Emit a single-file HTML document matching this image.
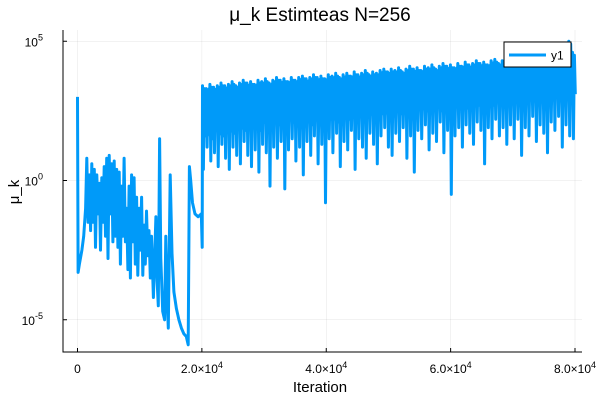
<!DOCTYPE html>
<html><head><meta charset="utf-8"><style>
html,body{margin:0;padding:0;background:#fff;}
svg{display:block;font-family:"Liberation Sans",sans-serif;}
</style></head><body>
<svg id="chart" width="600" height="400" viewBox="0 0 600 400" xmlns="http://www.w3.org/2000/svg">
<text x="320" y="21" font-size="19" text-anchor="middle" fill="#000">μ_k Estimteas N=256</text>
<text x="320" y="392" font-size="15" text-anchor="middle">Iteration</text>
<text x="19" y="192" font-size="15" text-anchor="middle" transform="rotate(-90 19 192)">μ_k</text>
<g id="grid"></g>
<g id="series"></g>
<g id="axes"></g>
<g>
<rect x="504" y="42" width="67" height="25" fill="#fff" stroke="#000" stroke-width="1"/>
<line x1="509" y1="55" x2="546" y2="55" stroke="#009af9" stroke-width="3"/>
<text x="551" y="59.5" font-size="12">y1</text>
</g>
</svg>
<script>
const xTicks = [0, 20000, 40000, 60000, 80000];
const xTickMant = ["0", "2.0", "4.0", "6.0", "8.0"];
const yTicks = [5, 0, -5];
const yTickLabels = ["5", "0", "-5"];
const earlyIter = [0,100,300,700,1000,1300,1500,1700,1900,2100,2300,2500,2700,2900,3100,3300,3500,3700,3900,4100,4300,4500,4700,4900,5100,5300,5500,5700,5900,6100,6300,6500,6700,6900,7100,7300,7500,7700,7900,8100,8300,8500,8700,8900,9100,9300,9500,9700,9900,10100,10300,10500,10700,10900,11100,11300,11500,11700,11900,12200,12600,12800,13000,13200,13400,13700,14000,14200,14400,14600,14900,15200,15500,15900,16300,16700,17100,17500,17800,18000,18200,18500,18900,19400,19900,20050];
const earlyLog = [3.0,-3.3,-3.0,-2.5,-2.0,-1.0,0.8,-1.5,0.2,-1.8,0.6,-1.5,0.4,-2.4,0.2,-1.2,-0.1,-2.5,0.1,-1.5,0.5,-2.0,0.8,-2.8,0.9,-1.2,0.6,-2.2,0.7,-2.0,0.4,-2.4,0.3,-3.0,-0.2,-2.0,0.8,-2.2,-1.0,-3.2,-0.2,-3.5,0.2,-2.2,0.1,-3.0,-0.6,-3.4,-1.0,-2.5,-0.6,-3.4,-1.6,-3.0,-1.1,-2.7,-1.8,-3.5,-2.0,-4.2,-1.3,-3.6,-4.5,1.5,-2.8,-4.7,-5.0,-2.0,-4.2,-5.3,0.2,-2.6,-4.0,-4.6,-5.0,-5.3,-5.5,-5.6,-5.9,0.5,0.0,-0.8,-1.2,-1.3,-1.2,-2.4];
const denseStart = 20100, denseStep = 595;
const denseHi = [3.4,3.3,3.45,3.35,3.4,3.5,3.4,3.45,3.55,3.4,3.5,3.6,3.5,3.55,3.45,3.6,3.55,3.65,3.5,3.6,3.7,3.6,3.65,3.55,3.7,3.6,3.7,3.75,3.65,3.7,3.8,3.7,3.75,3.65,3.8,3.75,3.85,3.7,3.8,3.85,3.75,3.9,3.8,3.85,3.95,3.8,3.9,3.85,3.95,4.0,3.9,4.0,3.95,4.05,3.9,4.0,4.1,4.0,4.05,3.95,4.1,4.05,4.15,4.0,4.1,4.2,4.1,4.15,4.05,4.2,4.1,4.25,4.15,4.2,4.3,4.2,4.25,4.15,4.3,4.35,4.2,4.3,4.25,4.4,4.3,4.35,4.25,4.4,4.45,4.3,4.4,4.35,4.45,4.5,4.4,4.5,4.45,4.55,4.5,5.0,4.6];
const denseLo = [0.4,1.2,0.7,1.0,0.5,1.3,0.8,0.4,1.2,0.9,0.6,1.4,0.9,0.5,1.1,0.3,1.3,1.0,-0.2,1.2,0.8,1.4,-0.3,1.1,1.5,0.7,1.2,0.2,1.4,0.9,1.6,0.6,1.3,-0.8,1.5,1.0,1.7,0.5,1.4,1.1,1.8,0.4,1.5,1.2,0.8,1.7,1.3,0.6,1.6,1.9,1.2,0.9,1.7,1.4,1.9,0.8,1.6,0.3,1.8,1.5,2.0,1.1,1.7,1.4,2.1,1.0,1.8,-0.5,1.6,1.9,1.2,2.0,1.7,1.3,2.1,1.8,0.6,1.9,1.5,2.2,1.6,1.9,1.3,2.0,1.5,2.2,0.9,1.9,1.6,2.3,1.4,2.0,1.7,1.0,2.1,1.8,2.3,1.2,2.0,1.6,1.5];
const denseMid = [1.6,1.8,1.5,1.9,1.7,1.6,2.0,1.8,1.7,2.0,1.9,1.8,2.1,1.9,2.0,1.8,2.1,2.0,1.9,2.2,2.0,2.1,1.9,2.2,2.1,2.0,2.3,2.1,2.2,2.0,2.3,2.2,2.1,2.4,2.2,2.3,2.1,2.4,2.3,2.2,2.5,2.3,2.4,2.2,2.5,2.4,2.3,2.6,2.4,2.5,2.3,2.6,2.5,2.4,2.7,2.5,2.6,2.4,2.7,2.6,2.5,2.8,2.6,2.7,2.5,2.8,2.7,2.6,2.9,2.7,2.8,2.6,2.9,2.8,2.7,3.0,2.8,2.9,2.7,3.0,2.9,2.8,3.1,2.9,3.0,2.8,3.1,3.0,2.9,3.2,3.0,3.1,2.9,3.2,3.1,3.0,3.2,3.1,3.0,3.2,3.1];

const NS = "http://www.w3.org/2000/svg";
const L = 63, R = 582, T = 30, B = 352;
function xs(v){ return 77.5 + v * (497.5/80000); }
function ys(l){ return 180.5 - l * 27.85; }
function mk(tag, attrs, parent){ const e=document.createElementNS(NS,tag); for(const k in attrs) e.setAttribute(k, attrs[k]); parent.appendChild(e); return e; }
const grid=document.getElementById('grid'), axes=document.getElementById('axes'), series=document.getElementById('series');
xTicks.forEach((t,i)=>{
  const gl=mk('line',{x1:xs(t),x2:xs(t),y1:T,y2:B,stroke:'#000','stroke-opacity':0.1,'stroke-width':0.5},grid);
  
  
  const tk=mk('line',{x1:xs(t),x2:xs(t),y1:B,y2:B-4,stroke:'#000'},axes);
  
  
  const tx=mk('text',{x:xs(t),y:373,'font-size':12,'text-anchor':'middle'},axes);
  
  
  if(t===0){ tx.textContent='0'; }
  else { tx.textContent=xTickMant[i]+'×10'; const s=mk('tspan',{dy:-5,'font-size':9},tx); s.textContent='4'; }
});
yTicks.forEach((t,i)=>{
  const gl=mk('line',{x1:L,x2:R,y1:ys(t),y2:ys(t),stroke:'#000','stroke-opacity':0.1,'stroke-width':0.5},grid);
  
  
  const tk=mk('line',{x1:L,x2:L+4,y1:ys(t),y2:ys(t),stroke:'#000'},axes);
  
  
  const tx=mk('text',{x:L-20,y:ys(t)+5,'font-size':12,'text-anchor':'end'},axes);
  
  
  tx.textContent='10';
  const s=mk('tspan',{dy:-6,'font-size':9},tx); s.textContent=yTickLabels[i];
});
const ax=mk('path',{d:`M${L},${T}V${B}H${R}`,fill:'none',stroke:'#000','stroke-width':1},axes);


let pts=[];
for(let i=0;i<earlyIter.length;i++) pts.push([xs(earlyIter[i]), ys(earlyLog[i])]);
const n=Math.min(denseHi.length, denseLo.length, denseMid.length);
let bandTop=[], bandBot=[];
for(let i=0;i<n;i++){
  const it=denseStart+i*denseStep;
  pts.push([xs(it), ys(denseHi[i])]);
  pts.push([xs(it+denseStep*0.25), ys(denseLo[i])]);
  pts.push([xs(it+denseStep*0.5), ys(denseHi[i]-0.1)]);
  pts.push([xs(it+denseStep*0.75), ys(denseMid[i])]);
  bandTop.push([xs(it), ys(denseHi[i]-0.05)]);
  bandBot.push([xs(it), ys(denseMid[i])]);
}
const band=mk('polygon',{points:bandTop.concat(bandBot.reverse()).map(p=>p[0].toFixed(1)+','+p[1].toFixed(1)).join(' '),fill:'#009af9',stroke:'none'},series);


const line=mk('polyline',{points:pts.map(p=>p[0].toFixed(1)+','+p[1].toFixed(1)).join(' '),fill:'none',stroke:'#009af9','stroke-width':3,'stroke-linejoin':'round'},series);


</script>
</body></html>
